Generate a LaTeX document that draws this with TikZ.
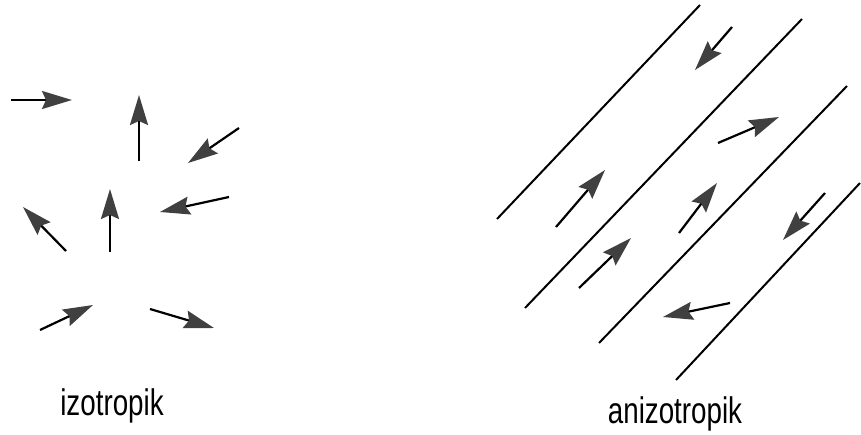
\documentclass[tikz,border=0pt]{standalone}
\usepackage{fontspec}
\setmainfont{Liberation Sans}
\usepackage{tikz}
\usetikzlibrary{arrows.meta}
\definecolor{headgrey}{RGB}{64,64,64}

\begin{document}
\begin{tikzpicture}[
        x=1pt, y=-1pt,
        every node/.style={font=\fontsize{37}{37}\selectfont, inner sep=0pt},
        tag/.style={xscale=0.75, transform shape, anchor=base},
        spin/.style={-{Stealth[length=30pt, width=18pt, inset=4pt, color=headgrey, fill=headgrey]}, line width=2.2pt, black},
        wall/.style={line width=2pt, black}
    ]
        \useasboundingbox (0,0) rectangle (861,435);

        % Points: izotropik
        \coordinate (i1a) at (11,100);   \coordinate (i1b) at (72,100);
        \coordinate (i2a) at (139,161);  \coordinate (i2b) at (139,95);
        \coordinate (i3a) at (239,128);  \coordinate (i3b) at (188,163);
        \coordinate (i4a) at (229,197);  \coordinate (i4b) at (160,212);
        \coordinate (i5a) at (110,252);  \coordinate (i5b) at (110,189);
        \coordinate (i6a) at (66,251);   \coordinate (i6b) at (23,207);
        \coordinate (i7a) at (40,330);   \coordinate (i7b) at (93,305);
        \coordinate (i8a) at (150,309);  \coordinate (i8b) at (214,328);

        % Points: anizotropik
        \coordinate (w1a) at (497,219);  \coordinate (w1b) at (700,5);
        \coordinate (w2a) at (525,308);  \coordinate (w2b) at (802,19);
        \coordinate (w3a) at (599,343);  \coordinate (w3b) at (847,86);
        \coordinate (w4a) at (676,380);  \coordinate (w4b) at (860,183);

        \coordinate (a1a) at (732,27);   \coordinate (a1b) at (695,70);
        \coordinate (a2a) at (718,143);  \coordinate (a2b) at (779,117);
        \coordinate (a3a) at (556,227);  \coordinate (a3b) at (605,170);
        \coordinate (a4a) at (679,233);  \coordinate (a4b) at (717,183);
        \coordinate (a5a) at (825,193);  \coordinate (a5b) at (783,240);
        \coordinate (a6a) at (579,288);  \coordinate (a6b) at (631,238);
        \coordinate (a7a) at (730,303);  \coordinate (a7b) at (663,317);

        % Labels
        \node[tag] (iso) at (112,415) {izotropik};
        \node[tag] (aniso) at (675,423) {anizotropik};

        % Arrows
        \foreach \s in {i1,i2,i3,i4,i5,i6,i7,i8,a1,a2,a3,a4,a5,a6,a7}
            \draw[spin] (\s a) -- (\s b);

        % Lines
        \foreach \s in {w1,w2,w3,w4}
            \draw[wall] (\s a) -- (\s b);
\end{tikzpicture}
\end{document}
